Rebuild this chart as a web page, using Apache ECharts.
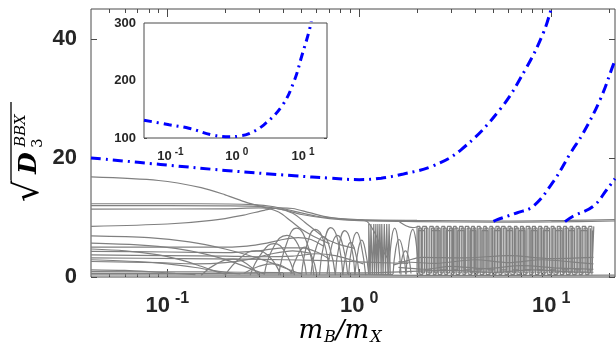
<!DOCTYPE html>
<html>
<head>
<meta charset="utf-8">
<script src="https://cdn.jsdelivr.net/npm/echarts@6/dist/echarts.min.js"></script>
<style>
html, body { margin: 0; padding: 0; background: #fff; }
#chart { width: 616px; height: 347px; }
</style>
</head>
<body>
<div id="chart"></div>
<script>
// ---- data ----
var xMajor = [0.1, 1, 10];
var xMinor = [0.05, 0.06, 0.07, 0.08, 0.09, 0.2, 0.3, 0.4, 0.5, 0.6, 0.7, 0.8, 0.9,
              2, 3, 4, 5, 6, 7, 8, 9, 20];
var yTicks = [0, 20, 40];
var insetYTicks = [100, 200, 300];

// blue dash-dot curves (main)
var blue1 = [[0.04, 20], [0.092, 18.9], [0.2, 17.9], [0.46, 17.0], [0.7, 16.6], [1.0, 16.35],
             [1.3, 16.6], [1.7, 17.3], [2.4, 18.6], [3.4, 21.4], [5.4, 28.1], [7.5, 35.4],
             [9.1, 41], [10, 45], [10.5, 47.5]];
var blue2 = [[5.0, 9.35], [5.2, 9.6], [6.6, 10.75], [8.07, 11.9], [10.3, 16.1], [12.6, 20.8],
             [14.7, 24.2], [18, 29.8], [21.1, 35.7], [21.5, 36.4]];
var blue3 = [[11.8, 9.3], [13.0, 10.2], [16.6, 11.9], [19.5, 14.7], [21.5, 16.5]];

// inset curve
var insetBlue = [[0.04, 131], [0.096, 123], [0.19, 117], [0.44, 105], [0.8, 102], [1.1, 103.5],
                 [1.5, 107], [2.57, 123], [4.9, 157], [7.4, 200], [9.6, 243], [12.5, 288],
                 [13.6, 310]];

// gray spectrum: long band lines
var bandLines = [
  [[0.04, 12.3], [0.15, 12.3], [0.28, 12.15], [0.36, 11.8], [0.45, 11.1], [0.6, 10.2], [0.8, 9.8],
   [1.2, 9.55], [2.5, 9.45], [6, 9.4], [12, 9.5], [21.5, 9.65]],
  [[0.04, 12.0], [0.2, 11.95], [0.3, 11.85], [0.4, 11.3], [0.5, 10.5], [0.7, 9.8], [1.0, 9.45],
   [2, 9.3], [5, 9.2], [10, 9.25], [21.5, 9.4]],
  [[0.04, 8.5], [0.1, 8.9], [0.17, 9.5], [0.25, 10.4], [0.32, 11.2], [0.38, 11.6], [0.45, 11.5],
   [0.55, 10.8], [0.7, 10.0], [0.9, 9.6], [1.3, 9.5], [2, 9.5]],
  [[0.04, 16.8], [0.09, 16.2], [0.15, 15.0], [0.2, 13.8], [0.26, 12.5], [0.32, 11.7], [0.38, 10.9],
   [0.44, 9.4], [0.5, 8.0], [0.58, 6.8], [0.7, 5.6]],
  [[0.04, 11.4], [0.2, 11.45], [0.3, 11.6], [0.37, 11.5], [0.45, 10.7], [0.52, 9.2], [0.6, 7.6],
   [0.68, 6.3], [0.8, 5.4], [0.95, 4.8]],
  [[1.0, 9.6], [1.1, 9.3], [1.2, 7.5], [1.3, 5.0], [1.4, 3.2]],
  [[1.6, 9.4], [1.75, 8.6], [1.9, 8.3], [2.0, 8.4]]
];

// gray spectrum: lower lines starting at the left edge
var leftLines = [
  [[0.04, 6.9], [0.08, 6.6], [0.13, 5.9], [0.2, 4.7], [0.28, 3.4], [0.36, 2.2], [0.45, 1.0], [0.5, 0.5]],
  [[0.04, 5.7], [0.07, 5.4], [0.11, 4.8], [0.16, 3.8], [0.22, 2.5], [0.28, 1.2], [0.32, 0.5]],
  [[0.04, 5.0], [0.1, 5.0], [0.18, 5.0], [0.26, 5.2], [0.33, 5.7], [0.4, 6.3], [0.48, 6.6], [0.56, 6.3], [0.65, 5.2]],
  [[0.04, 4.7], [0.06, 4.4], [0.09, 3.7], [0.12, 2.8], [0.15, 1.8], [0.18, 0.9], [0.2, 0.5]],
  [[0.04, 4.3], [0.1, 4.2], [0.2, 4.1], [0.3, 4.4], [0.4, 4.9], [0.5, 4.9], [0.6, 4.2], [0.7, 3.0]],
  [[0.04, 3.7], [0.1, 3.6], [0.2, 3.5], [0.3, 3.4], [0.45, 3.5], [0.6, 3.9], [0.75, 3.6], [0.9, 2.9], [1.05, 2.2]],
  [[0.04, 3.2], [0.12, 3.1], [0.25, 3.0], [0.4, 2.9], [0.6, 2.8], [0.9, 2.6], [1.3, 2.4], [1.8, 2.3]],
  [[0.04, 2.9], [0.07, 2.6], [0.1, 2.2], [0.14, 1.6], [0.19, 0.9], [0.24, 0.5]],
  [[0.04, 2.6], [0.09, 2.4], [0.14, 2.2], [0.2, 2.4], [0.27, 3.0], [0.35, 3.9], [0.45, 4.4], [0.55, 4.0]],
  [[0.04, 1.2], [0.06, 1.1], [0.08, 0.9], [0.11, 0.6], [0.14, 0.4]],
  [[0.04, 0.9], [0.15, 0.85], [0.4, 0.75], [1, 0.7], [1.8, 0.9]],
  [[0.04, 0.6], [0.2, 0.55], [0.6, 0.5], [1.5, 0.45]],
  [[0.04, 0.35], [1, 0.3], [5, 0.28], [21.5, 0.3]],
  [[1.6, 1.6], [2.2, 1.3], [3, 1.8], [4.5, 1.4], [7, 1.9], [11, 1.5], [16.6, 1.3]],
  [[1.6, 2.6], [2.5, 2.3], [4, 2.9], [6, 2.4], [9, 2.9], [13, 2.5], [16.6, 2.2]],
  [[1.7, 0.9], [3, 1.1], [5, 0.8], [8, 1.2], [12, 0.9], [16.6, 0.8]],
  [[1.5, 2.0], [1.8, 2.8], [2.1, 3.3], [3.5, 3.2], [6, 3.6], [10, 3.1], [16.6, 3.3]]
];

// gray spectrum: humps in the crossing region
var arcLines = [
  [[0.15, 0.3], [0.18, 2.2], [0.22, 3.0], [0.26, 2.2], [0.3, 0.3]],
  [[0.2, 0.3], [0.24, 3.2], [0.29, 4.4], [0.34, 3.4], [0.39, 0.3]],
  [[0.25, 0.6], [0.3, 1.8], [0.35, 2.2], [0.4, 1.8], [0.45, 0.6]],
  [[0.27, 0.3], [0.31, 4.0], [0.36, 5.6], [0.41, 4.2], [0.46, 0.3]],
  [[0.32, 0.4], [0.36, 5.2], [0.42, 7.0], [0.48, 5.4], [0.53, 0.4]],
  [[0.38, 0.3], [0.42, 5.8], [0.47, 8.2], [0.53, 6.0], [0.58, 0.3]],
  [[0.44, 0.5], [0.48, 3.8], [0.52, 5.0], [0.56, 3.8], [0.6, 0.5]],
  [[0.5, 0.3], [0.54, 6.0], [0.59, 8.0], [0.65, 6.2], [0.7, 0.3]],
  [[0.56, 0.4], [0.6, 5.2], [0.65, 6.8], [0.7, 5.0], [0.75, 0.4]],
  [[0.62, 0.3], [0.66, 6.2], [0.71, 8.3], [0.77, 6.4], [0.82, 0.3]],
  [[0.68, 0.5], [0.72, 5.4], [0.77, 7.0], [0.82, 5.4], [0.87, 0.5]],
  [[0.75, 0.3], [0.79, 5.8], [0.84, 7.8], [0.9, 6.0], [0.95, 0.3]],
  [[0.82, 0.4], [0.86, 4.4], [0.9, 5.8], [0.95, 4.4], [1.0, 0.4]],
  [[0.88, 0.3], [0.92, 5.6], [0.97, 7.5], [1.02, 5.6], [1.08, 0.3]],
  [[0.95, 0.5], [0.99, 4.8], [1.03, 6.2], [1.07, 4.8], [1.12, 0.5]],
  [[1.42, 0.4], [1.47, 6.2], [1.53, 8.2], [1.59, 6.2], [1.65, 0.4]],
  [[1.5, 0.5], [1.55, 4.8], [1.61, 6.3], [1.68, 4.8], [1.75, 0.5]],
  [[1.75, 0.4], [1.82, 6.0], [1.9, 8.0], [1.97, 6.2], [2.05, 0.4]],
  [[1.62, 0.6], [1.68, 3.5], [1.74, 4.4], [1.8, 3.5], [1.86, 0.6]]
];

// x positions of the near-vertical spikes
var spikeX1 = [1.12, 1.14, 1.15, 1.17, 1.19, 1.2, 1.22, 1.23, 1.25, 1.26, 1.28, 1.3, 1.31,
               1.33, 1.35, 1.37, 1.39, 1.41, 1.43, 1.45];
var spikeX2 = [2.00, 2.07, 2.14, 2.24, 2.33, 2.43, 2.51, 2.58, 2.69, 2.79, 2.88, 3.01, 3.10,
               3.20, 3.33, 3.47, 3.57, 3.72, 3.85, 3.98, 4.12, 4.27, 4.45, 4.59, 4.79, 4.95,
               5.15, 5.35, 5.52, 5.75, 5.96, 6.17, 6.43, 6.64, 6.92, 7.16, 7.41, 7.73, 7.98,
               8.28, 8.61, 8.91, 9.25, 9.59, 10.0, 10.35, 10.76, 11.17, 11.61, 12.02, 12.53,
               12.94, 13.49, 14.0, 14.52, 15.14, 15.70, 16.29, 16.67];
var spikeX3 = [2.03, 2.19, 2.38, 2.63, 2.84, 3.05, 3.26, 3.52, 3.78, 4.05, 4.36, 4.68, 5.05,
               5.45, 5.85, 6.3, 6.78, 7.3, 7.85, 8.45, 9.1, 9.8, 10.55, 11.4, 12.3, 13.2,
               14.25, 15.4, 16.4];
var spikeX4 = [2.04, 2.11, 2.19, 2.28, 2.38, 2.47, 2.55, 2.64, 2.74, 2.84, 2.95, 3.06, 3.15,
               3.27, 3.40, 3.52, 3.65, 3.79, 3.92, 4.05, 4.2, 4.36, 4.52, 4.69, 4.87, 5.05,
               5.25, 5.44, 5.63, 5.86, 6.07, 6.3, 6.53, 6.78, 7.04, 7.28, 7.57, 7.85, 8.13,
               8.45, 8.76, 9.08, 9.42, 9.8, 10.18, 10.55, 10.97, 11.4, 11.82, 12.28, 12.73,
               13.2, 13.75, 14.26, 14.83, 15.42, 16.0];
var spikeLevels1 = [0.4, 8.9];
var spikeLevels2 = [0.4, 8.5];
var spikeLevels3 = [1.2, 7.8];
var spikeLevels4 = [0.7, 8.2];

// ---- helpers ----
var AXIS_COLOR = '#4a4a4a';
var TEXT_COLOR = '#262626';
var FONT = 'Liberation Sans';

function spikes(xs, levels) {
    var pts = [];
    for (var i = 0; i < xs.length; ++i) {
        if (i % 2 === 0) {
            pts.push([xs[i], levels[0]], [xs[i], levels[1]]);
        } else {
            pts.push([xs[i], levels[1]], [xs[i], levels[0]]);
        }
    }
    return pts;
}

function gray(pts, smooth) {
    return {
        type: 'line', xAxisIndex: 0, yAxisIndex: 0, data: pts, symbol: 'none',
        smooth: smooth, silent: true, clip: true,
        lineStyle: { color: '#808080', width: 1.2 }
    };
}

function powLabel(v) {
    var e = Math.round(Math.log(v) / Math.LN10);
    return '{b|10}{s|' + e + '}';
}

function xAxisDef(grid, pos, ticks, len, labels, min, max, big) {
    return {
        type: 'log', gridIndex: grid, position: pos, min: min, max: max,
        axisLine: { show: false },
        splitLine: { show: false },
        axisTick: { show: true, inside: true, length: len, customValues: ticks,
                    lineStyle: { color: AXIS_COLOR, width: 1 } },
        axisLabel: labels ? {
            show: true, customValues: xMajor, margin: big ? 14 : 9,
            formatter: powLabel,
            rich: big ? {
                b: { fontFamily: FONT, fontWeight: 'bold', fontSize: 22, color: TEXT_COLOR },
                s: { fontFamily: FONT, fontWeight: 'bold', fontSize: 16, color: TEXT_COLOR,
                     padding: [0, 0, 14, 5] }
            } : {
                b: { fontFamily: FONT, fontWeight: 'bold', fontSize: 13, color: TEXT_COLOR },
                s: { fontFamily: FONT, fontWeight: 'bold', fontSize: 10, color: TEXT_COLOR,
                     padding: [0, 0, 8, 3] }
            }
        } : { show: false }
    };
}

function yAxisDef(grid, pos, ticks, len, labels, min, max, big) {
    return {
        type: 'value', gridIndex: grid, position: pos, min: min, max: max,
        axisLine: { show: false },
        splitLine: { show: false },
        axisTick: { show: true, inside: true, length: len, customValues: ticks,
                    lineStyle: { color: AXIS_COLOR, width: 1 } },
        axisLabel: labels ? {
            show: true, customValues: ticks, margin: big ? 14 : 8,
            fontFamily: FONT, fontWeight: 'bold', fontSize: big ? 22 : 13, color: TEXT_COLOR
        } : { show: false }
    };
}

// ---- series ----
var series = [];
bandLines.forEach(function (l) { series.push(gray(l, 0.3)); });
leftLines.forEach(function (l) { series.push(gray(l, 0.3)); });
arcLines.forEach(function (l) { series.push(gray(l, 0.5)); });
series.push(gray(spikes(spikeX1, spikeLevels1), false));
series.push(gray(spikes(spikeX2, spikeLevels2), false));
series.push(gray(spikes(spikeX3, spikeLevels3), false));
series.push(gray(spikes(spikeX4, spikeLevels4), false));

[blue1, blue2, blue3].forEach(function (b) {
    series.push({
        type: 'line', xAxisIndex: 0, yAxisIndex: 0, data: b, symbol: 'none', smooth: 0.4,
        clip: true, z: 5,
        lineStyle: { color: '#0000ff', width: 3, type: [10, 5, 2, 5] }
    });
});
series.push({
    type: 'line', xAxisIndex: 4, yAxisIndex: 2, data: insetBlue, symbol: 'none', smooth: 0.4,
    clip: true, z: 5,
    lineStyle: { color: '#0000ff', width: 3, type: [8, 5, 2, 5] }
});

var chart = echarts.init(document.getElementById('chart'), null, { renderer: 'canvas' });
chart.setOption({
    animation: false,
    backgroundColor: '#ffffff',
    grid: [
        { left: 91, right: 1, top: 9, bottom: 70, show: true, borderColor: AXIS_COLOR,
          borderWidth: 1, backgroundColor: '#ffffff', outerBoundsMode: 'none' },
        { left: 144, top: 23, width: 183, height: 115, show: true, borderColor: AXIS_COLOR,
          borderWidth: 1, backgroundColor: '#ffffff', z: 3, outerBoundsMode: 'none' }
    ],
    xAxis: [
        xAxisDef(0, 'bottom', xMajor, 8, true, 0.04, 21.5, true),
        xAxisDef(0, 'bottom', xMinor, 4, false, 0.04, 21.5, true),
        xAxisDef(0, 'top', xMajor, 8, false, 0.04, 21.5, true),
        xAxisDef(0, 'top', xMinor, 4, false, 0.04, 21.5, true),
        xAxisDef(1, 'bottom', xMajor, 4, true, 0.04, 23, false),
        xAxisDef(1, 'bottom', xMinor, 2, false, 0.04, 23, false),
        xAxisDef(1, 'top', xMajor, 4, false, 0.04, 23, false),
        xAxisDef(1, 'top', xMinor, 2, false, 0.04, 23, false)
    ],
    yAxis: [
        yAxisDef(0, 'left', yTicks, 6, true, 0, 45, true),
        yAxisDef(0, 'right', yTicks, 6, false, 0, 45, true),
        yAxisDef(1, 'left', insetYTicks, 3, true, 100, 300, false),
        yAxisDef(1, 'right', insetYTicks, 3, false, 100, 300, false)
    ],
    graphic: [
        {
            type: 'group', x: 27, y: 150, rotation: Math.PI / 2,
            children: [
                { type: 'text', x: -52, y: 2,
                  style: { text: '\u221A', font: '34px "DejaVu Serif"', fill: '#000',
                           verticalAlign: 'middle' } },
                { type: 'line', shape: { x1: -30, y1: -16, x2: 48, y2: -16 },
                  style: { stroke: '#000', lineWidth: 1.3 } },
                { type: 'text', x: -24, y: 2,
                  style: { text: 'D', font: 'italic bold 25px "DejaVu Serif"', fill: '#000',
                           verticalAlign: 'middle' } },
                { type: 'text', x: 2, y: 11,
                  style: { text: '3', font: '15px "DejaVu Serif"', fill: '#000',
                           verticalAlign: 'middle' } },
                { type: 'text', x: 3, y: -6,
                  style: { text: 'BBX', font: 'italic 15px "DejaVu Serif"', fill: '#000',
                           verticalAlign: 'middle' } }
            ]
        },
        {
            type: 'text', x: 340, y: 331,
            style: {
                text: '{i|m}{s|B}{i|/m}{s|X}', align: 'center', verticalAlign: 'middle',
                rich: {
                    i: { fontFamily: 'DejaVu Serif', fontStyle: 'italic', fontSize: 26, fill: '#000' },
                    s: { fontFamily: 'DejaVu Serif', fontStyle: 'italic', fontSize: 16, fill: '#000',
                         padding: [13, 0, 0, 1] }
                }
            }
        }
    ],
    series: series
});
</script>
</body>
</html>
